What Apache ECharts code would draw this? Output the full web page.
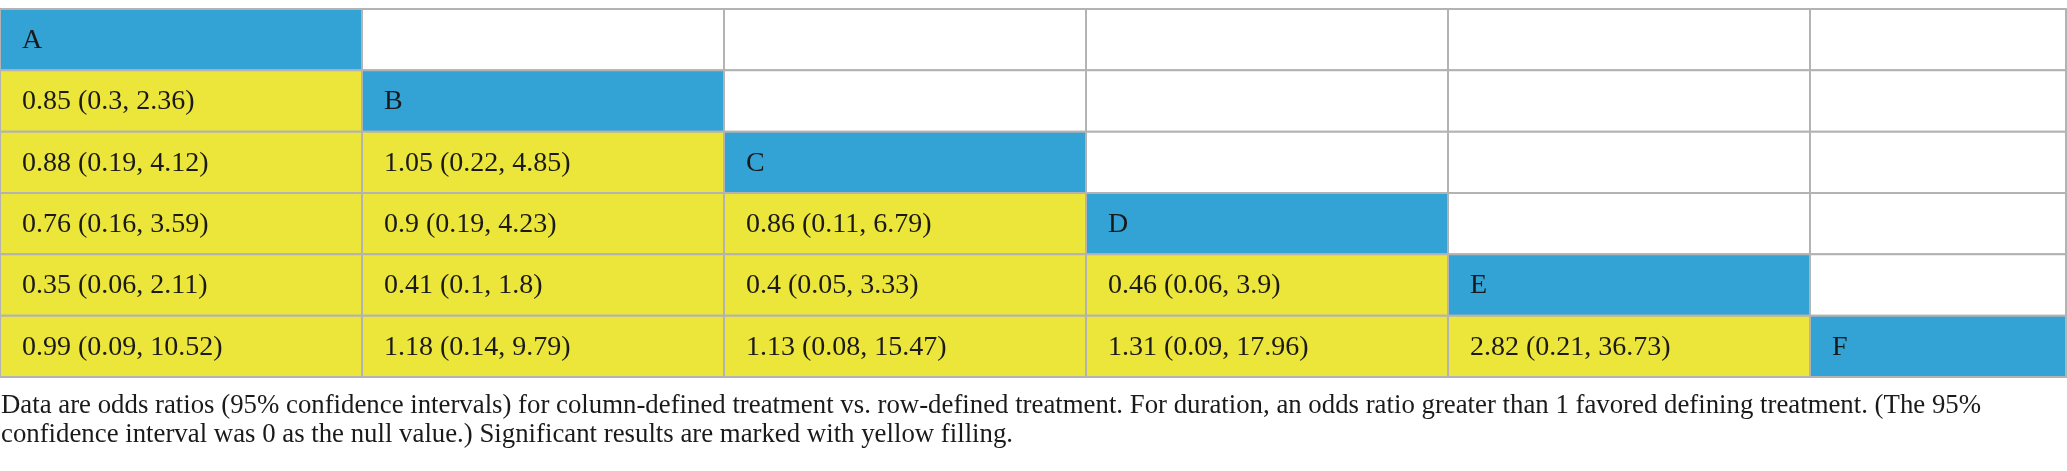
<!DOCTYPE html>
<html>
<head>
    <meta charset="utf-8">
    <script src="https://cdn.jsdelivr.net/npm/echarts@6/dist/echarts.min.js"></script>
    <style>
        html, body { margin: 0; padding: 0; background: #fff; }
    </style>
</head>
<body>
    <div id="main" style="width: 2067px;height:471px;"></div>
    <script type="text/javascript">
        var chart = echarts.init(document.getElementById('main'));

        // treatments (rows and columns of the league table)
        var treatments = ['A', 'B', 'C', 'D', 'E', 'F'];
        // lower triangle: row treatment index -> values for columns 0..row-1
        var oddsRatio = [
            [],
            [0.85],
            [0.88, 1.05],
            [0.76, 0.9, 0.86],
            [0.35, 0.41, 0.4, 0.46],
            [0.99, 1.18, 1.13, 1.31, 2.82]
        ];
        var ciLower = [
            [],
            [0.3],
            [0.19, 0.22],
            [0.16, 0.19, 0.11],
            [0.06, 0.1, 0.05, 0.06],
            [0.09, 0.14, 0.08, 0.09, 0.21]
        ];
        var ciUpper = [
            [],
            [2.36],
            [4.12, 4.85],
            [3.59, 4.23, 6.79],
            [2.11, 1.8, 3.33, 3.9],
            [10.52, 9.79, 15.47, 17.96, 36.73]
        ];
        var footnote = [
            'Data are odds ratios (95% confidence intervals) for column-defined treatment vs. row-defined treatment. For duration, an odds ratio greater than 1 favored defining treatment. (The 95%',
            'confidence interval was 0 as the null value.) Significant results are marked with yellow filling.'
        ];

        var blue = '#33a3d6';
        var yellow = '#ece53a';
        var lineColor = '#b3b3b3';
        var cellFont = '28px "Liberation Serif"';
        var noteFont = '26.8px "Liberation Serif"';

        // one item per cell: [column, row]
        var cells = [];
        treatments.forEach(function (rowName, r) {
            treatments.forEach(function (colName, c) {
                cells.push([c, r]);
            });
        });

        function cellText(c, r) {
            if (c === r) return treatments[r];
            if (c > r) return '';
            return oddsRatio[r][c] + ' (' + ciLower[r][c] + ', ' + ciUpper[r][c] + ')';
        }

        function renderCell(params, api) {
            var c = api.value(0), r = api.value(1);
            var center = api.coord([c, r]);
            var size = api.size([1, 1]);
            var x0 = center[0] - size[0] / 2;
            var y0 = center[1] - size[1] / 2;
            // the table is cut at the right edge of the picture
            var w = Math.min(size[0], api.getWidth() - 1 - x0);
            var fill = c === r ? blue : (c < r ? yellow : '#ffffff');
            return {
                type: 'group',
                children: [
                    {
                        type: 'rect',
                        shape: { x: x0, y: y0, width: w, height: size[1] },
                        style: { fill: fill, stroke: lineColor, lineWidth: 2 }
                    },
                    {
                        type: 'text',
                        style: {
                            text: cellText(c, r),
                            x: x0 + 22,
                            y: center[1] + 1,
                            verticalAlign: 'middle',
                            fill: '#1a1a1a',
                            font: cellFont
                        }
                    }
                ]
            };
        }

        var option = {
            animation: false,
            grid: { left: 0, top: 9, width: 2172, height: 368, outerBoundsMode: 'none', containLabel: false },
            xAxis: { type: 'category', data: treatments, show: false },
            yAxis: { type: 'category', data: treatments, inverse: true, show: false },
            series: [{
                type: 'custom',
                renderItem: renderCell,
                data: cells,
                clip: false
            }],
            graphic: footnote.map(function (line, i) {
                return {
                    type: 'text',
                    x: 1,
                    y: 406 + i * 28.5,
                    style: {
                        text: line,
                        verticalAlign: 'middle',
                        fill: '#1a1a1a',
                        font: noteFont
                    }
                };
            })
        };
        chart.setOption(option);
    </script>
</body>
</html>
